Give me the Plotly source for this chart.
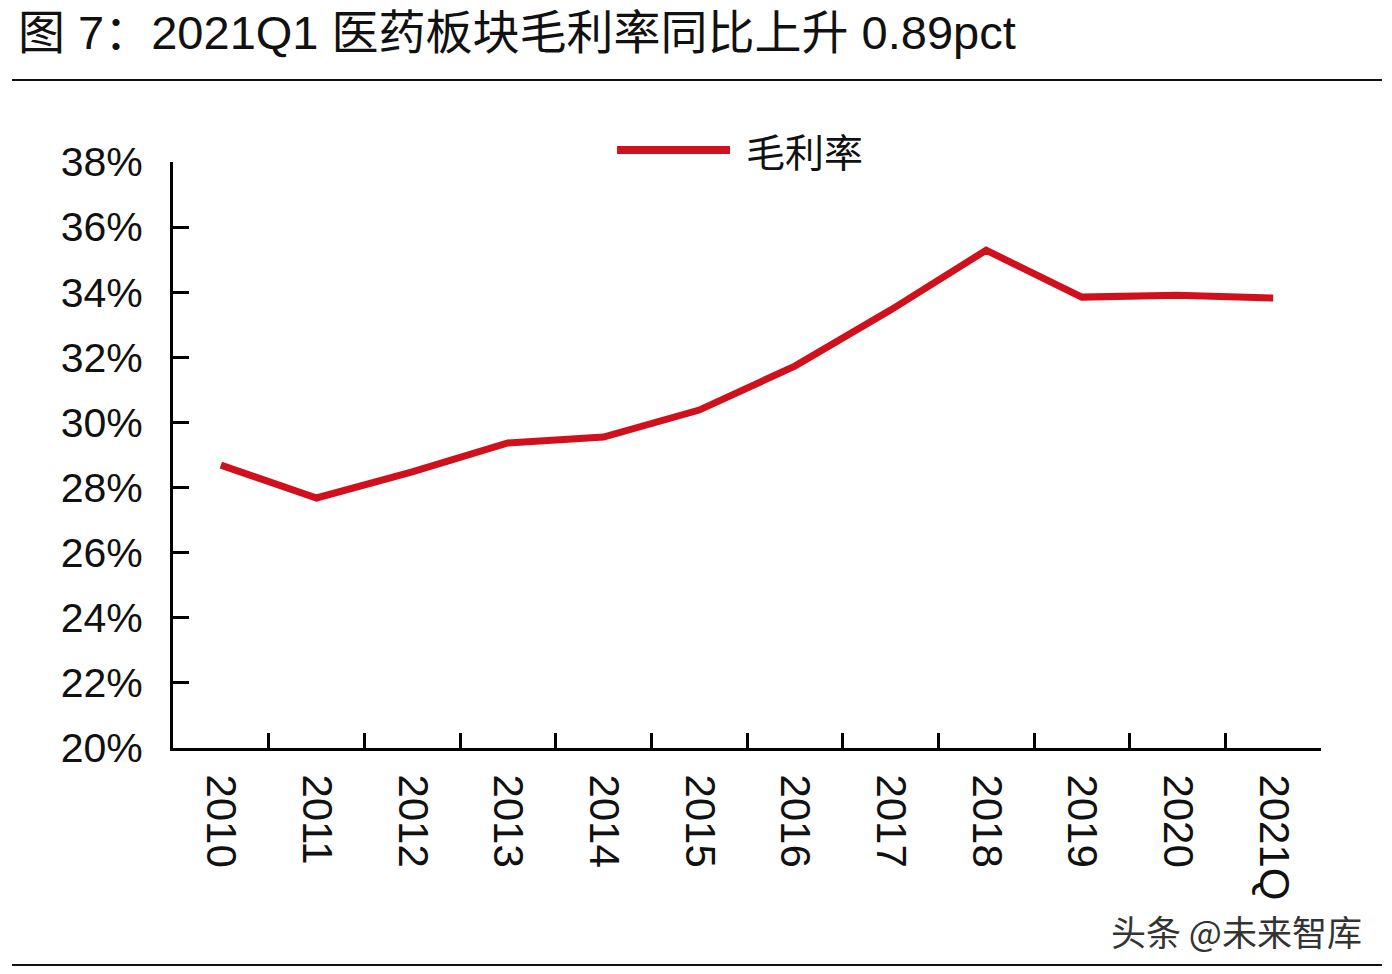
import plotly.graph_objects as go

categories = ["2010", "2011", "2012", "2013", "2014", "2015", "2016", "2017", "2018", "2019", "2020", "2021Q"]
gross_margin = [0.2869, 0.2768, 0.2848, 0.2937, 0.2955, 0.3038, 0.3173, 0.3345, 0.3529, 0.3385, 0.3391, 0.3382]
series_name = "毛利率"
y_ticks = [0.20, 0.22, 0.24, 0.26, 0.28, 0.30, 0.32, 0.34, 0.36, 0.38]
title_text = "图 7：2021Q1 医药板块毛利率同比上升 0.89pct"
watermark = "头条 @未来智库"

RED = "#D0101C"
LAT = "Liberation Sans, Arial, sans-serif"
CJK = "Noto Sans CJK SC, sans-serif"

fig = go.Figure()
fig.add_trace(go.Scatter(
    x=categories, y=gross_margin, mode="lines", name=series_name,
    line=dict(color=RED, width=7), showlegend=False,
))

# legend (drawn manually to match long sample line)
fig.add_shape(type="line", xref="paper", yref="paper", x0=0.3868, x1=0.4852, y0=1.0205, y1=1.0205,
              line=dict(color=RED, width=8))
fig.add_annotation(xref="paper", yref="paper", x=0.4975, y=1.0205, text=series_name, showarrow=False,
                   xanchor="left", yanchor="middle", font=dict(family=CJK, size=39, color="#111111"))

# rules
fig.add_shape(type="line", xref="paper", yref="paper", x0=-0.1402, x1=1.0531, y0=1.1399, y1=1.1399,
              line=dict(color="#111111", width=2))
fig.add_shape(type="line", xref="paper", yref="paper", x0=-0.1402, x1=1.0531, y0=-0.3703, y1=-0.3703,
              line=dict(color="#111111", width=2))

fig.add_annotation(xref="paper", yref="paper", x=0.9268, y=-0.3106, text=watermark, showarrow=False,
                   xanchor="center", yanchor="middle", font=dict(family=CJK, size=35, color="#333333"))

fig.update_layout(
    width=1392, height=974,
    margin=dict(l=165, r=79, t=154, b=234),
    paper_bgcolor="white", plot_bgcolor="white",
    title=dict(text=title_text, x=0.0072, xanchor="left", y=0.975, yanchor="middle",
               font=dict(family=LAT + ", " + CJK, size=47, color="#111111")),
    showlegend=False,
)
fig.update_xaxes(
    type="category", range=[-0.5, 11.5], tickson="boundaries",
    ticks="inside", ticklen=15, tickwidth=3, tickcolor="black",
    showline=True, linecolor="black", linewidth=3, showgrid=False, zeroline=False,
    tickangle=90, tickfont=dict(family=LAT, size=42, color="#111111"),
    ticklabelstandoff=15,
)
fig.update_yaxes(
    range=[0.20, 0.38], tickvals=y_ticks, tickformat=".0%",
    ticks="inside", ticklen=16, tickwidth=3, tickcolor="black",
    showline=True, linecolor="black", linewidth=3, showgrid=False, zeroline=False,
    tickfont=dict(family=LAT, size=41, color="#111111"),
    ticklabelstandoff=19,
)

fig.write_html("out.html")
